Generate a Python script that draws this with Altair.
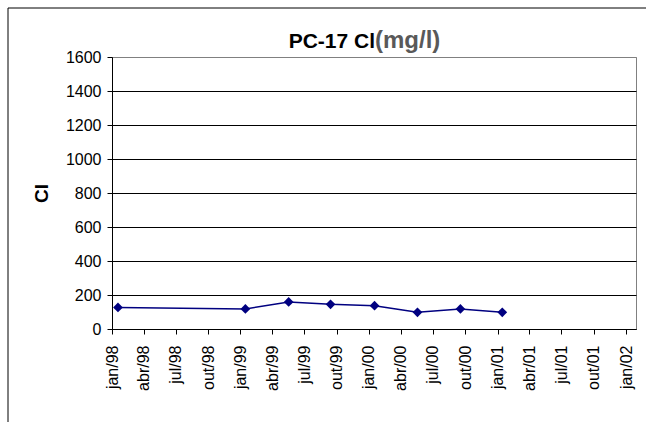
import altair as alt
import pandas as pd

# ---- data ----
sample_dates = ["1998-01-18", "1999-01-15", "1999-05-18", "1999-09-14",
                "2000-01-17", "2000-05-18", "2000-09-17", "2001-01-14"]
cl_values = [127, 118, 159, 145, 137, 98, 118, 98]

tick_labels = ["jan/98", "abr/98", "jul/98", "out/98",
               "jan/99", "abr/99", "jul/99", "out/99",
               "jan/00", "abr/00", "jul/00", "out/00",
               "jan/01", "abr/01", "jul/01", "out/01",
               "jan/02"]
y_ticks = [0, 200, 400, 600, 800, 1000, 1200, 1400, 1600]

title_main = "PC-17 Cl"
title_unit = "(mg/l)"
y_title = "Cl"

# ---- derived helpers ----
month_of = {"jan": 1, "abr": 4, "jul": 7, "out": 10}


def ms(year, month, day):
    return int(pd.Timestamp(year=year, month=month, day=day, tz="UTC").value // 10**6)


tick_ms = []
for lab in tick_labels:
    m, yy = lab.split("/")
    year = 1900 + int(yy) if int(yy) > 50 else 2000 + int(yy)
    tick_ms.append(ms(year, month_of[m], 1))

labels_js = "[" + ",".join("'" + l + "'" for l in tick_labels) + "]"
label_expr = labels_js + "[round((utcyear(datum.value)-1998)*4 + utcmonth(datum.value)/3)]"

df = pd.DataFrame({"date": sample_dates, "cl": cl_values})

FONT = "Liberation Sans"

x_enc = alt.X(
    "date:T",
    scale=alt.Scale(type="utc", domain=[ms(1998, 1, 1), ms(2002, 1, 29)], nice=False),
    axis=alt.Axis(values=tick_ms, labelExpr=label_expr, labelAngle=270,
                  labelFontSize=16, labelFont=FONT, labelColor="black",
                  labelPadding=11, tickSize=5, tickColor="black",
                  domainColor="black", grid=False, title=None,
                  labelOverlap=False),
)
y_enc = alt.Y(
    "cl:Q",
    scale=alt.Scale(domain=[0, 1600], nice=False),
    axis=alt.Axis(values=y_ticks, format="d", labelOverlap=False,
                  labelFontSize=16, labelFont=FONT,
                  labelColor="black", labelPadding=6, tickSize=5,
                  tickColor="black", domainColor="black",
                  grid=True,
                  gridColor={"condition": {"test": "datum.value >= 1600", "value": "#808080"},
                             "value": "black"},
                  gridOpacity=1,
                  title=y_title, titleFont=FONT, titleFontSize=19,
                  titleFontWeight="bold", titleColor="black",
                  titleAngle=270, titleAlign="center", titleBaseline="alphabetic",
                  titleX=-65, titleY=136),
)

base = alt.Chart(df).encode(x=x_enc, y=y_enc)
line = base.mark_line(color="#000080", strokeWidth=1.5)
points = base.mark_point(shape="diamond", filled=True, color="#000080",
                         size=95, opacity=1)

one = pd.DataFrame({"k": [0]})
frame_left = alt.Chart(one).mark_rule(color="black", strokeWidth=1).encode(
    x=alt.value(-104), y=alt.value(-49), y2=alt.value(370))
frame_top = alt.Chart(one).mark_rule(color="black", strokeWidth=1).encode(
    x=alt.value(-104), x2=alt.value(540), y=alt.value(-49))

t_main = alt.Chart(pd.DataFrame({"t": [title_main]})).mark_text(
    align="right", baseline="alphabetic", font=FONT, fontSize=21,
    fontWeight="bold", color="black").encode(
    text="t:N", x=alt.value(263), y=alt.value(-9))
t_unit = alt.Chart(pd.DataFrame({"t": [title_unit]})).mark_text(
    align="left", baseline="alphabetic", font=FONT, fontSize=24,
    fontWeight="bold", color="#595959").encode(
    text="t:N", x=alt.value(263), y=alt.value(-9))

chart = alt.layer(line, points, frame_left, frame_top, t_main, t_unit).properties(
    width=524, height=272,
    padding={"left": 112, "top": 57, "right": 10, "bottom": 93},
    autosize=alt.AutoSizeParams(type="none"),
    background="white",
).configure_view(stroke="#808080", strokeWidth=1)

chart.save("out.html", embed_options={"renderer": "svg", "actions": False})
